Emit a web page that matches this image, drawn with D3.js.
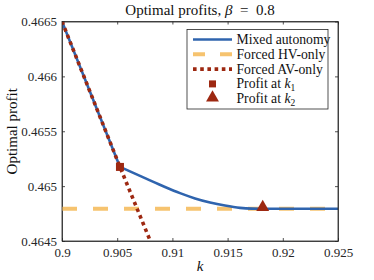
<!DOCTYPE html>
<html><head><meta charset="utf-8">
<script src="https://cdn.jsdelivr.net/npm/d3@7"></script>
<style>body{margin:0;background:#fff}svg{display:block}</style>
</head><body>
<script>
// ---- data ----
// Mixed autonomy: linear part up to k1, then decaying curve
const mixedLinK      = [0.9, 0.90525];
const mixedLinProfit = [0.4665, 0.465175];
const mixedCurveK      = [0.90525, 0.90661, 0.90797, 0.90933, 0.91069, 0.91205, 0.91341, 0.91476, 0.91612, 0.91721, 0.91794, 0.925];
const mixedCurveProfit = [0.465175, 0.465114, 0.465052, 0.464992, 0.464936, 0.464888, 0.464851, 0.464823, 0.464802, 0.464795, 0.464794, 0.464794];
const hvK         = [0.9, 0.925];
const hvProfit    = [0.464794, 0.464794];
const avK         = [0.9, 0.90525, 0.908, 0.9095];
const avProfit    = [0.4665, 0.465175, 0.4645, 0.464128];
const k1 = [0.90525], k1Profit = [0.465175];
const k2 = [0.91818], k2Profit = [0.464794];
const xTicks = [0.9, 0.905, 0.91, 0.915, 0.92, 0.925];
const yTicks = [0.4645, 0.465, 0.4655, 0.466, 0.4665];
const legendLabels = ["Mixed autonomy", "Forced HV-only", "Forced AV-only", "Profit at k1", "Profit at k2"];

const W = 374, H = 280;
const m = {l: 62, r: 36, t: 21.5, b: 39};
const colBlue = "#2f64ae", colOrange = "#f6c36f", colRed = "#9d2811";
const FONT = "Liberation Serif, Times New Roman, serif";

const svg = d3.select("body").append("svg").attr("width", W).attr("height", H)
  .style("font-family", FONT);

const x = d3.scaleLinear().domain([0.9, 0.925]).range([m.l, W - m.r]);
const y = d3.scaleLinear().domain([0.4645, 0.4665]).range([H - m.b, m.t]);

svg.append("defs").append("clipPath").attr("id", "clip")
  .append("rect").attr("x", m.l).attr("y", m.t).attr("width", x.range()[1] - m.l).attr("height", y.range()[0] - m.t);

const fmt = d => String(d);
const gx = svg.append("g").attr("transform", `translate(0,${y.range()[0]})`)
  .call(d3.axisBottom(x).tickValues(xTicks).tickFormat(fmt).tickSizeInner(-3).tickSizeOuter(0).tickPadding(7));
const gy = svg.append("g").attr("transform", `translate(${m.l},0)`)
  .call(d3.axisLeft(y).tickValues(yTicks).tickFormat(fmt).tickSizeInner(-3).tickSizeOuter(0).tickPadding(5));
const gxt = svg.append("g").attr("transform", `translate(0,${m.t})`)
  .call(d3.axisTop(x).tickValues(xTicks).tickFormat("").tickSizeInner(-3).tickSizeOuter(0));
const gyr = svg.append("g").attr("transform", `translate(${x.range()[1]},0)`)
  .call(d3.axisRight(y).tickValues(yTicks).tickFormat("").tickSizeInner(-3).tickSizeOuter(0));
[gx, gy, gxt, gyr].forEach(g => {
  g.selectAll("path").attr("stroke", "#262626").attr("stroke-width", 0.8);
  g.selectAll("line").attr("stroke", "#262626").attr("stroke-width", 0.8);
  g.selectAll("text").attr("font-family", FONT).attr("font-size", 13).attr("fill", "#262626");
});

const plot = svg.append("g").attr("clip-path", "url(#clip)");
const line = d3.line().x(d => x(d[0])).y(d => y(d[1]));
const curveLine = d3.line().x(d => x(d[0])).y(d => y(d[1])).curve(d3.curveMonotoneX);

// Forced HV-only
plot.append("path").datum(d3.zip(hvK, hvProfit)).attr("d", line)
  .attr("fill", "none").attr("stroke", colOrange).attr("stroke-width", 4)
  .attr("stroke-dasharray", "15,16");
// Mixed
plot.append("path").datum(d3.zip(mixedLinK, mixedLinProfit)).attr("d", line)
  .attr("fill", "none").attr("stroke", colBlue).attr("stroke-width", 2.6);
plot.append("path").datum(d3.zip(mixedCurveK, mixedCurveProfit)).attr("d", curveLine)
  .attr("fill", "none").attr("stroke", colBlue).attr("stroke-width", 2.6);
// Forced AV-only
plot.append("path").datum(d3.zip(avK, avProfit)).attr("d", line)
  .attr("fill", "none").attr("stroke", colRed).attr("stroke-width", 3.6)
  .attr("stroke-dasharray", "3.6,3.6");

// markers
svg.selectAll(".k1").data(d3.zip(k1, k1Profit)).join("rect")
  .attr("x", d => x(d[0]) - 4).attr("y", d => y(d[1]) - 4).attr("width", 8).attr("height", 8)
  .attr("fill", colRed);
const tri = d3.symbol().type(d3.symbolTriangle).size(72);
svg.selectAll(".k2").data(d3.zip(k2, k2Profit)).join("path")
  .attr("d", tri).attr("transform", d => `translate(${x(d[0])},${y(d[1]) - 1.5})`)
  .attr("fill", colRed);

// box border
svg.append("rect").attr("x", m.l).attr("y", m.t).attr("width", x.range()[1] - m.l).attr("height", y.range()[0] - m.t)
  .attr("fill", "none").attr("stroke", "#262626").attr("stroke-width", 0.8);

// title
const title = svg.append("text").attr("x", (m.l + x.range()[1]) / 2).attr("y", 15)
  .attr("text-anchor", "middle").attr("font-size", 15).attr("fill", "#111")
  .attr("xml:space", "preserve").style("white-space", "pre");
title.append("tspan").text("Optimal profits, ");
title.append("tspan").attr("font-style", "italic").text("β");
title.append("tspan").text("  =  0.8");

// axis labels
svg.append("text").attr("x", (m.l + x.range()[1]) / 2).attr("y", 271).attr("text-anchor", "middle")
  .attr("font-size", 15).attr("font-style", "italic").attr("fill", "#111").text("k");
svg.append("text").attr("transform", `translate(17,${(m.t + y.range()[0]) / 2}) rotate(-90)`)
  .attr("text-anchor", "middle").attr("font-size", 15).attr("fill", "#111").text("Optimal profit");

// legend
const lg = svg.append("g");
lg.append("rect").attr("x", 187).attr("y", 29.5).attr("width", 141).attr("height", 79.5)
  .attr("fill", "#fff").attr("stroke", "#262626").attr("stroke-width", 0.8);
const rowY = i => 39.5 + i * 14.8;
const lx0 = 193, lx1 = 232, tx = 236.5;
lg.append("line").attr("x1", lx0).attr("x2", lx1).attr("y1", rowY(0)).attr("y2", rowY(0))
  .attr("stroke", colBlue).attr("stroke-width", 2.6);
lg.append("line").attr("x1", lx0).attr("x2", lx1).attr("y1", rowY(1)).attr("y2", rowY(1))
  .attr("stroke", colOrange).attr("stroke-width", 4).attr("stroke-dasharray", "12,15");
lg.append("line").attr("x1", lx0).attr("x2", lx1).attr("y1", rowY(2)).attr("y2", rowY(2))
  .attr("stroke", colRed).attr("stroke-width", 3.6).attr("stroke-dasharray", "3.6,3.6");
lg.append("rect").attr("x", 212.5 - 3.5).attr("y", rowY(3) - 3.5).attr("width", 7).attr("height", 7).attr("fill", colRed);
lg.append("path").attr("d", tri).attr("transform", `translate(212.5,${rowY(4) - 1})`).attr("fill", colRed);
legendLabels.forEach((t, i) => {
  const te = lg.append("text").attr("x", tx).attr("y", rowY(i) + 4.5).attr("font-size", 13.7).attr("fill", "#111");
  if (i < 3) te.text(t);
  else {
    te.append("tspan").text("Profit at ");
    te.append("tspan").attr("font-style", "italic").text("k");
    te.append("tspan").attr("font-size", 9.5).attr("dy", 2.5).text(t.slice(-1));
  }
});
</script>
</body></html>
